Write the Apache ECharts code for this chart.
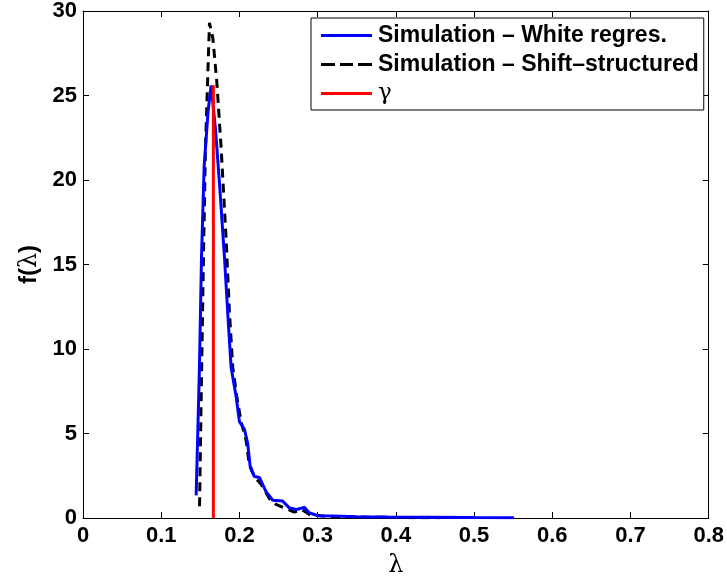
<!DOCTYPE html>
<html>
<head>
<meta charset="utf-8">
<script src="https://cdn.jsdelivr.net/npm/echarts@6/dist/echarts.min.js"></script>
<style>html,body{margin:0;padding:0;background:#fff;}#c{width:727px;height:583px;}</style>
</head>
<body>
<div id="c"></div>
<script>
// Data
const whiteRegres = [
  [0.1447,1.34],[0.1489,8.93],[0.1515,15.4],[0.1549,20.8],[0.1600,24.1],[0.1638,25.6],
  [0.1694,23.0],[0.1745,19.8],[0.1809,15.4],[0.1864,11.1],[0.1894,8.9],[0.1957,7.2],
  [0.2000,5.7],[0.2064,5.25],[0.2106,4.4],[0.2136,3.1],[0.2191,2.45],[0.2255,2.4],
  [0.2340,1.56],[0.2426,1.05],[0.2553,1.0],[0.2638,0.6],[0.2730,0.5],[0.2830,0.63],
  [0.2890,0.31],[0.3000,0.14],[0.3200,0.12],[0.3500,0.08],[0.3900,0.06],[0.4400,0.05],
  [0.5000,0.03],[0.5510,0.02]
];
const shiftStructured = [
  [0.1490,0.7],[0.1510,6.8],[0.1540,15.4],[0.1566,21.9],[0.1596,26.3],[0.1617,29.3],
  [0.1660,28.4],[0.1711,25.8],[0.1766,21.9],[0.1830,16.5],[0.1872,12.2],[0.1915,8.9],
  [0.1966,7.2],[0.2021,5.7],[0.2085,4.6],[0.2128,3.1],[0.2190,2.45],[0.2277,2.0],
  [0.2383,1.15],[0.2468,0.8],[0.2574,0.6],[0.2700,0.35],[0.2800,0.5],[0.2900,0.2],
  [0.3100,0.1],[0.3500,0.06],[0.4000,0.03],[0.4570,0.01]
];
const gammaValue = 1/6;
const gammaLine = [[gammaValue,0],[gammaValue,25.6]];
const seriesNames = ['Simulation \u2013 White regres.','Simulation \u2013 Shift\u2013structured','\u03b3'];
const xTicks = {min:0, max:0.8, interval:0.1};
const yTicks = {min:0, max:30, interval:5};

const font = 'Liberation Sans, Arial, Helvetica, sans-serif';
const chart = echarts.init(document.getElementById('c'), null, {renderer:'canvas'});
const axLine = {show:true, onZero:false, lineStyle:{color:'#000', width:1}};
const tick = {show:true, inside:true, length:6, lineStyle:{color:'#000', width:1}};
const solidIcon = 'path://M0,0H51V3H0Z';
const dashIcon = 'path://M0,0H14V3H0Z M19,0H32V3H19Z M37,0H51V3H37Z';
chart.setOption({
  animation:false,
  backgroundColor:'#fff',
  grid:{left:83, right:14, top:10, bottom:59, containLabel:false},
  legend:{
    data:[
      {name:seriesNames[0], icon:solidIcon, textStyle:{fontWeight:'bold'}},
      {name:seriesNames[1], icon:dashIcon, textStyle:{fontWeight:'bold'}},
      {name:seriesNames[2], icon:solidIcon, textStyle:{fontWeight:'normal', fontFamily:'DejaVu Serif, serif'}}
    ],
    orient:'vertical', left:311, top:18,
    backgroundColor:'#fff', borderColor:'#000', borderWidth:1, borderRadius:0,
    padding:[6,5,5,10],
    itemWidth:51, itemHeight:3, itemGap:6,
    textStyle:{fontFamily:font, fontSize:23, lineHeight:23, color:'#000', padding:[0,0,0,1]},
    selectedMode:false
  },
  xAxis:[
    {type:'value', min:xTicks.min, max:xTicks.max, interval:xTicks.interval, position:'bottom',
     name:'\u03bb', nameLocation:'middle', nameGap:36,
     nameTextStyle:{fontFamily:'DejaVu Serif, serif', fontSize:24, color:'#000'},
     axisLine:axLine, axisTick:tick, splitLine:{show:false},
     axisLabel:{fontFamily:font, fontSize:22, fontWeight:'bold', color:'#000', margin:7,
       formatter:v=>String(+v.toFixed(1))}},
    {type:'value', min:xTicks.min, max:xTicks.max, interval:xTicks.interval, position:'top',
     axisLine:axLine, axisTick:tick, axisLabel:{show:false}, splitLine:{show:false}}
  ],
  yAxis:[
    {type:'value', min:yTicks.min, max:yTicks.max, interval:yTicks.interval, position:'left',
     name:'{b|f(}{n|\u03bb}{b|)}', nameLocation:'middle', nameGap:41, nameRotate:90,
     nameTextStyle:{rich:{
       b:{fontFamily:font, fontSize:24, fontWeight:'bold', color:'#000'},
       n:{fontFamily:'DejaVu Serif, serif', fontSize:24, color:'#000'}}},
     axisLine:axLine, axisTick:tick, splitLine:{show:false},
     axisLabel:{fontFamily:font, fontSize:22, fontWeight:'bold', color:'#000', margin:6}},
    {type:'value', min:yTicks.min, max:yTicks.max, interval:yTicks.interval, position:'right',
     axisLine:axLine, axisTick:tick, axisLabel:{show:false}, splitLine:{show:false}}
  ],
  series:[
    {name:seriesNames[1], type:'line', data:shiftStructured, symbol:'none', z:2,
     lineStyle:{color:'#000', width:3, type:[9,6]}, itemStyle:{color:'#000'}},
    {name:seriesNames[0], type:'line', data:whiteRegres, symbol:'none', z:3,
     lineStyle:{color:'#0000ff', width:3}, itemStyle:{color:'#0000ff'}},
    {name:seriesNames[2], type:'line', data:gammaLine, symbol:'none', z:4,
     lineStyle:{color:'#ff0000', width:3}, itemStyle:{color:'#ff0000'}}
  ]
});
</script>
</body>
</html>
